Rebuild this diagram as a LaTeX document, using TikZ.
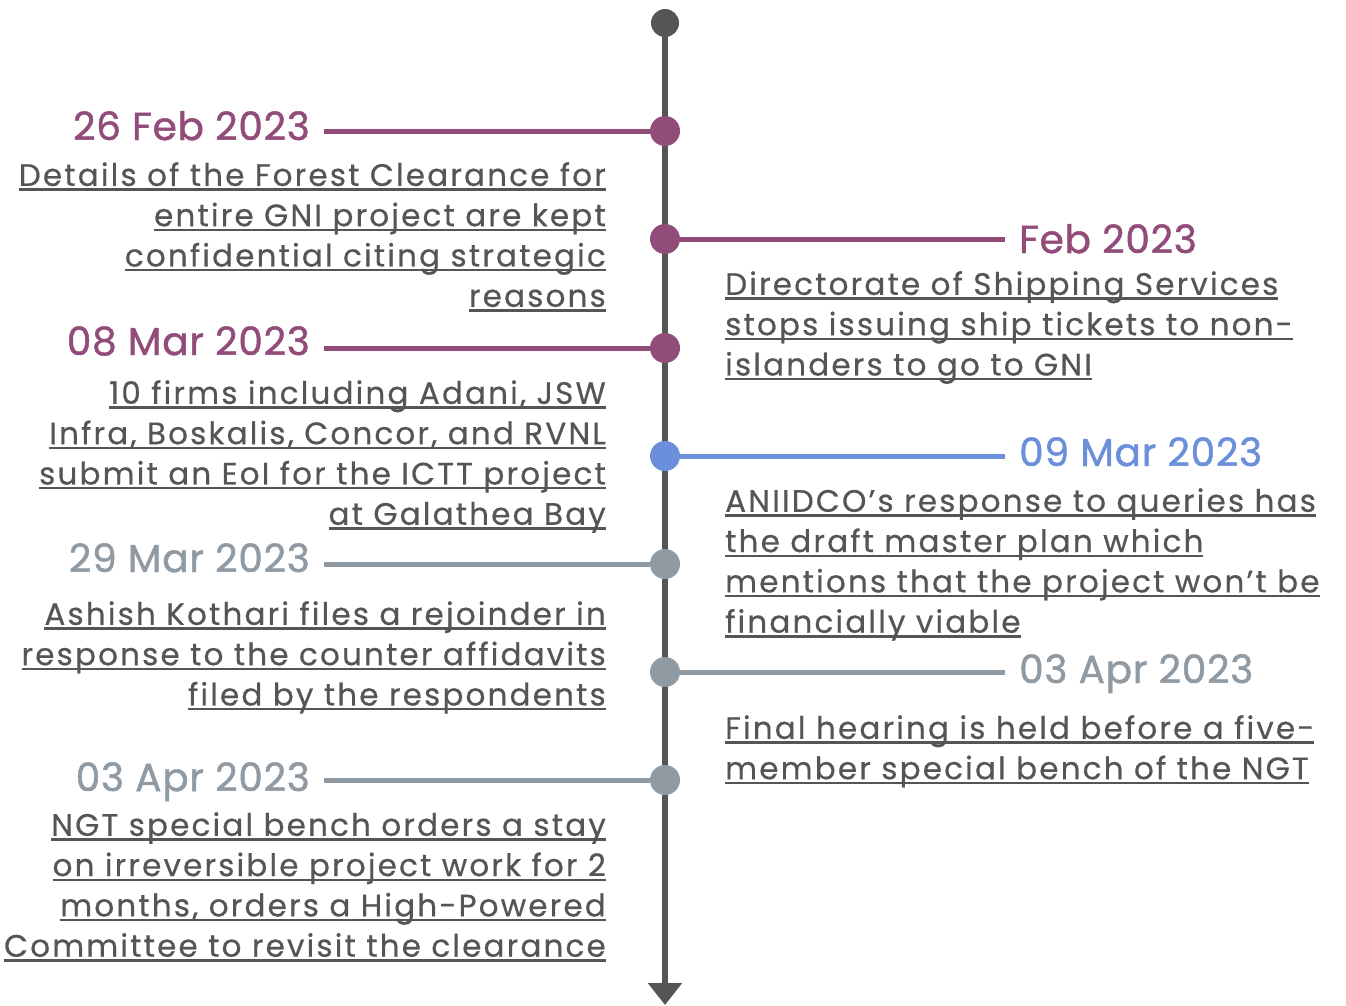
\documentclass[tikz,border=0pt]{standalone}
\usepackage{fontspec}
\usetikzlibrary{arrows.meta}
\setmainfont{Poppins}[LetterSpace = 7, FakeBold = 0.5]
\newfontfamily\datefont{Poppins}[FakeBold = 1.2, LetterSpace = 2]
\definecolor{plum}{HTML}{914C79}
\definecolor{sky}{HTML}{6B8FDB}
\definecolor{slate}{HTML}{8F9AA3}
\definecolor{ink}{HTML}{555555}
\newcommand{\lk}[1]{\setbox0=\hbox{#1}\rlap{\rule[-5pt]{\wd0}{2.4pt}}\box0}
\tikzset{
  event/.style = {circle, fill = #1, minimum size = 30pt, inner sep = 0pt},
  date/.style = {text = #1, inner xsep = 14pt, inner ysep = 0pt, font = \datefont\fontsize{39}{44}\selectfont},
  link/.style = {line width = 5pt, draw = #1},
  desc/.style = {text = ink, inner sep = 0pt, font = \fontsize{31}{40.3}\selectfont}
}

\begin{document}
\begin{tikzpicture}[x = 1pt, y = -1pt]
\useasboundingbox (0,0) rectangle (1346,1005);
\node[event = ink, minimum size = 28pt] (top) at (665,23) {};
\coordinate (tip) at (665,1005);
\draw[line width = 6pt, ink, -{Triangle[width = 33pt, length = 22pt]}] (top) -- (tip);
\node[event = plum] (e1) at (665,131) {};
\node[event = plum] (e2) at (665,239) {};
\node[event = plum] (e3) at (665,348) {};
\node[event = sky] (e4) at (665,456) {};
\node[event = slate] (e5) at (665,564) {};
\node[event = slate] (e6) at (665,672) {};
\node[event = slate] (e7) at (665,780) {};
\node[date = plum, anchor = base east] (d1) at (324,140) {26 Feb 2023};
\node[date = plum, anchor = base west] (d2) at (1005,253) {Feb 2023};
\node[date = plum, anchor = base east] (d3) at (324,355) {08 Mar 2023};
\node[date = sky, anchor = base west] (d4) at (1005,466) {09 Mar 2023};
\node[date = slate, anchor = base east] (d5) at (324,572) {29 Mar 2023};
\node[date = slate, anchor = base west] (d6) at (1005,683) {03 Apr 2023};
\node[date = slate, anchor = base east] (d7) at (324,791) {03 Apr 2023};
\draw[link = plum] (e1) -- (e1 -| d1.east);
\draw[link = plum] (e2) -- (e2 -| d2.west);
\draw[link = plum] (e3) -- (e3 -| d3.east);
\draw[link = sky] (e4) -- (e4 -| d4.west);
\draw[link = slate] (e5) -- (e5 -| d5.east);
\draw[link = slate] (e6) -- (e6 -| d6.west);
\draw[link = slate] (e7) -- (e7 -| d7.east);
\node[desc, anchor = north east, align = right] (t1) at (606,162)
  {\lk{Details of the Forest Clearance for}\\ \lk{entire GNI project are kept}\\ \lk{confidential citing strategic}\\ \lk{reasons}};
\node[desc, anchor = north west, align = left] (t2) at (725,271)
  {\lk{Directorate of Shipping Services}\\ \lk{stops issuing ship tickets to non-}\\ \lk{islanders to go to GNI}};
\node[desc, anchor = north east, align = right] (t3) at (606,380)
  {\lk{10 firms including Adani, JSW}\\ \lk{Infra, Boskalis, Concor, and RVNL}\\ \lk{submit an EoI for the ICTT project}\\ \lk{at Galathea Bay}};
\node[desc, anchor = north west, align = left] (t4) at (725,488)
  {\lk{ANIIDCO’s response to queries has}\\ \lk{the draft master plan which}\\ \lk{mentions that the project won’t be}\\ \lk{financially viable}};
\node[desc, anchor = north east, align = right] (t5) at (606,601)
  {\lk{Ashish Kothari files a rejoinder in}\\ \lk{response to the counter affidavits}\\ \lk{filed by the respondents}};
\node[desc, anchor = north west, align = left] (t6) at (725,715)
  {\lk{Final hearing is held before a five-}\\ \lk{member special bench of the NGT}};
\node[desc, anchor = north east, align = right] (t7) at (606,812)
  {\lk{NGT special bench orders a stay}\\ \lk{on irreversible project work for 2}\\ \lk{months, orders a High-Powered}\\ \lk{Committee to revisit the clearance}};
\end{tikzpicture}
\end{document}
